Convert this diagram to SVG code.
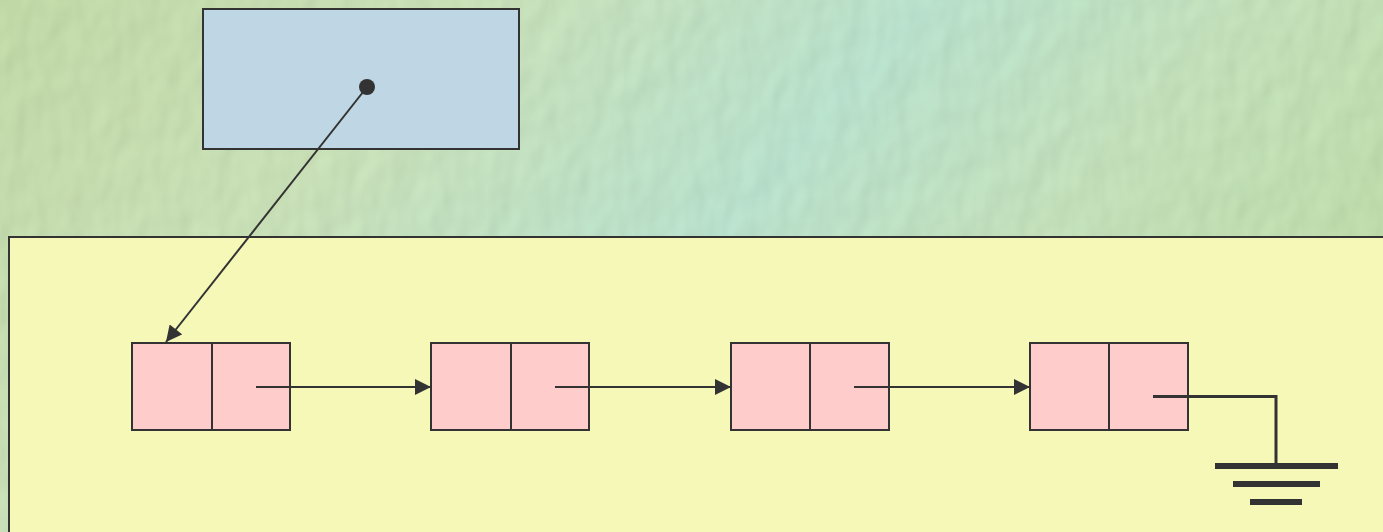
<svg xmlns="http://www.w3.org/2000/svg" width="1383" height="532" viewBox="0 0 1383 532">
<defs>
<linearGradient id="bg" x1="0" y1="0" x2="1" y2="0.35">
<stop offset="0" stop-color="#c0d8a6"/>
<stop offset="0.3" stop-color="#c8dfb6"/>
<stop offset="0.6" stop-color="#b8e0cc"/>
<stop offset="0.8" stop-color="#c2dfba"/>
<stop offset="1" stop-color="#bedcac"/>
</linearGradient>
<filter id="tex" x="0" y="0" width="100%" height="100%">
<feTurbulence type="fractalNoise" baseFrequency="0.04 0.025" numOctaves="2" seed="3" result="n"/>
<feDiffuseLighting in="n" surfaceScale="2.5" lighting-color="#ffffff" result="l">
<feDistantLight azimuth="225" elevation="55"/>
</feDiffuseLighting>
<feComposite in="l" in2="SourceGraphic" operator="arithmetic" k1="0.55" k2="0" k3="0.55" k4="0"/>
</filter>
<marker id="arr" viewBox="0 0 10 10" refX="10" refY="5" markerWidth="17" markerHeight="16" markerUnits="userSpaceOnUse" orient="auto">
<path d="M0,0 L10,5 L0,10 z" fill="#333333"/>
</marker>
<style>
.box{stroke:#333333;stroke-width:2}
.cell{fill:#ffcccc;stroke:#333333;stroke-width:2}
.con{stroke:#333333;stroke-width:2;fill:none}
.gnd{fill:#333333}
</style>
</defs>
<rect x="0" y="0" width="1383" height="532" fill="url(#bg)" filter="url(#tex)"/>
<g id="yellow-area">
<rect class="box" x="9" y="237" width="1390" height="310" fill="#f6f8b8"/>
</g>
<g id="pointer-box">
<rect class="box" x="203" y="9" width="316" height="140" fill="#bfd7e5"/>
<circle cx="367" cy="87" r="8" fill="#333333"/>
</g>
<g id="node1">
<rect class="cell" x="132" y="343" width="158" height="87"/>
<line class="con" x1="212" y1="343" x2="212" y2="430"/>
</g>
<g id="node2">
<rect class="cell" x="431" y="343" width="158" height="87"/>
<line class="con" x1="511" y1="343" x2="511" y2="430"/>
</g>
<g id="node3">
<rect class="cell" x="731" y="343" width="158" height="87"/>
<line class="con" x1="810" y1="343" x2="810" y2="430"/>
</g>
<g id="node4">
<rect class="cell" x="1030" y="343" width="158" height="87"/>
<line class="con" x1="1109" y1="343" x2="1109" y2="430"/>
</g>
<g id="ground">
<rect class="gnd" x="1215" y="463" width="123" height="6"/>
<rect class="gnd" x="1233" y="481" width="87" height="6"/>
<rect class="gnd" x="1250" y="499" width="52" height="6"/>
</g>
<g id="connectors">
<line class="con" x1="367" y1="87" x2="166" y2="342" marker-end="url(#arr)"/>
<line class="con" x1="256" y1="387" x2="431" y2="387" marker-end="url(#arr)"/>
<line class="con" x1="555" y1="387" x2="731" y2="387" marker-end="url(#arr)"/>
<line class="con" x1="854" y1="387" x2="1030" y2="387" marker-end="url(#arr)"/>
<polyline class="con" style="stroke-width:3" points="1153,396.5 1276,396.5 1276,464"/>
</g>
</svg>
